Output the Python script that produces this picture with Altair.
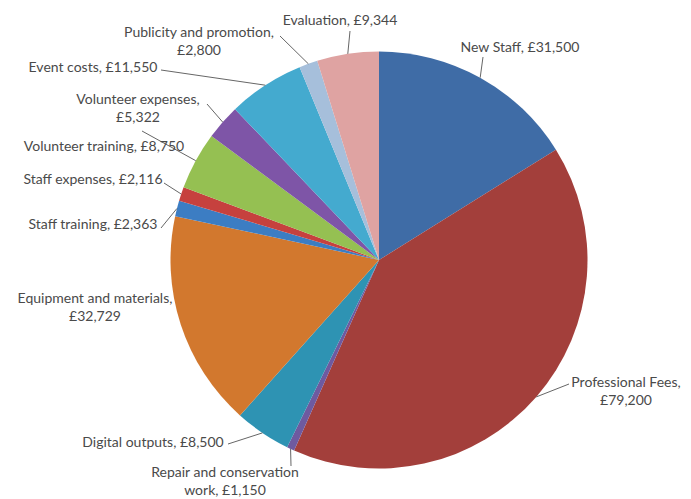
import altair as alt
import pandas as pd
import numpy as np

# ---- data ----
categories = ["New Staff", "Professional Fees", "Repair and conservation work",
              "Digital outputs", "Equipment and materials", "Staff training",
              "Staff expenses", "Volunteer training", "Volunteer expenses",
              "Event costs", "Publicity and promotion", "Evaluation"]
values = [31500, 79200, 1150, 8500, 32729, 2363, 2116, 8750, 5322, 11550, 2800, 9344]
label_texts = ["New Staff, £31,500", "Professional Fees,\n£79,200",
               "Repair and conservation\nwork, £1,150", "Digital outputs, £8,500",
               "Equipment and materials,\n£32,729", "Staff training, £2,363",
               "Staff expenses, £2,116", "Volunteer training, £8,750",
               "Volunteer expenses,\n£5,322", "Event costs, £11,550",
               "Publicity and promotion,\n£2,800", "Evaluation, £9,344"]

# ---- styles / layout ----
colors = ["#3F6CA6", "#A33F3B", "#6E5AA0", "#2E93B3", "#D2782E", "#3C7DC3",
          "#C6413E", "#95C052", "#7E55A7", "#44AACF", "#A6BFDB", "#DFA3A2"]
CX, CY, R = 371, 252, 208.5
# label positions (centre x, first-line y) in chart pixels
label_x = [512, 618, 217, 145, 87, 85, 85, 96, 130, 85, 191, 332]
label_y = [40, 375, 465, 435, 291, 217, 172, 139, 92, 60, 25, 13]
# leader line start points near the labels (None = no leader)
lead_x = [475, 561, 283, 220, None, 153, 156, 134, 199, 153, 272, 342]
lead_y = [49, 376, 458, 436, None, 220, 175, 123, 96, 62, 28, 23]

total = float(sum(values))
cum = np.cumsum(values)
mid = (cum - np.array(values) / 2.0) / total * 2 * np.pi

df = pd.DataFrame({"category": categories, "value": values,
                   "idx": list(range(len(values)))})

lab = pd.DataFrame({"text": label_texts, "x": label_x, "y": label_y})

lead_rows = []
for i in range(len(values)):
    if lead_x[i] is None:
        continue
    lead_rows.append({"x": lead_x[i], "y": lead_y[i],
                      "x2": CX + R * np.sin(mid[i]),
                      "y2": CY - R * np.cos(mid[i])})
lead = pd.DataFrame(lead_rows)

pie = alt.Chart(df).mark_arc(radius=R, stroke=None).encode(
    theta=alt.Theta("value:Q", stack=True),
    color=alt.Color("category:N", scale=alt.Scale(domain=categories, range=colors),
                    legend=None),
    order=alt.Order("idx:Q"),
    x=alt.value(CX), y=alt.value(CY),
)

leaders = alt.Chart(lead).mark_rule(color="#666666", strokeWidth=1).encode(
    x=alt.X("x:Q", scale=None), y=alt.Y("y:Q", scale=None),
    x2="x2:Q", y2="y2:Q",
)

labels = alt.Chart(lab).mark_text(
    font="Lato", fontSize=14, color="#4a4a4a", align="center",
    baseline="middle", lineBreak="\n", lineHeight=18,
).encode(
    x=alt.X("x:Q", scale=None), y=alt.Y("y:Q", scale=None), text="text:N",
)

chart = alt.layer(pie, leaders, labels).properties(
    width=675, height=491, padding=0,
    autosize=alt.AutoSizeParams(type="none"),
).configure_view(stroke=None)

chart.save("out.html", embed_options={"renderer": "svg", "actions": False})
